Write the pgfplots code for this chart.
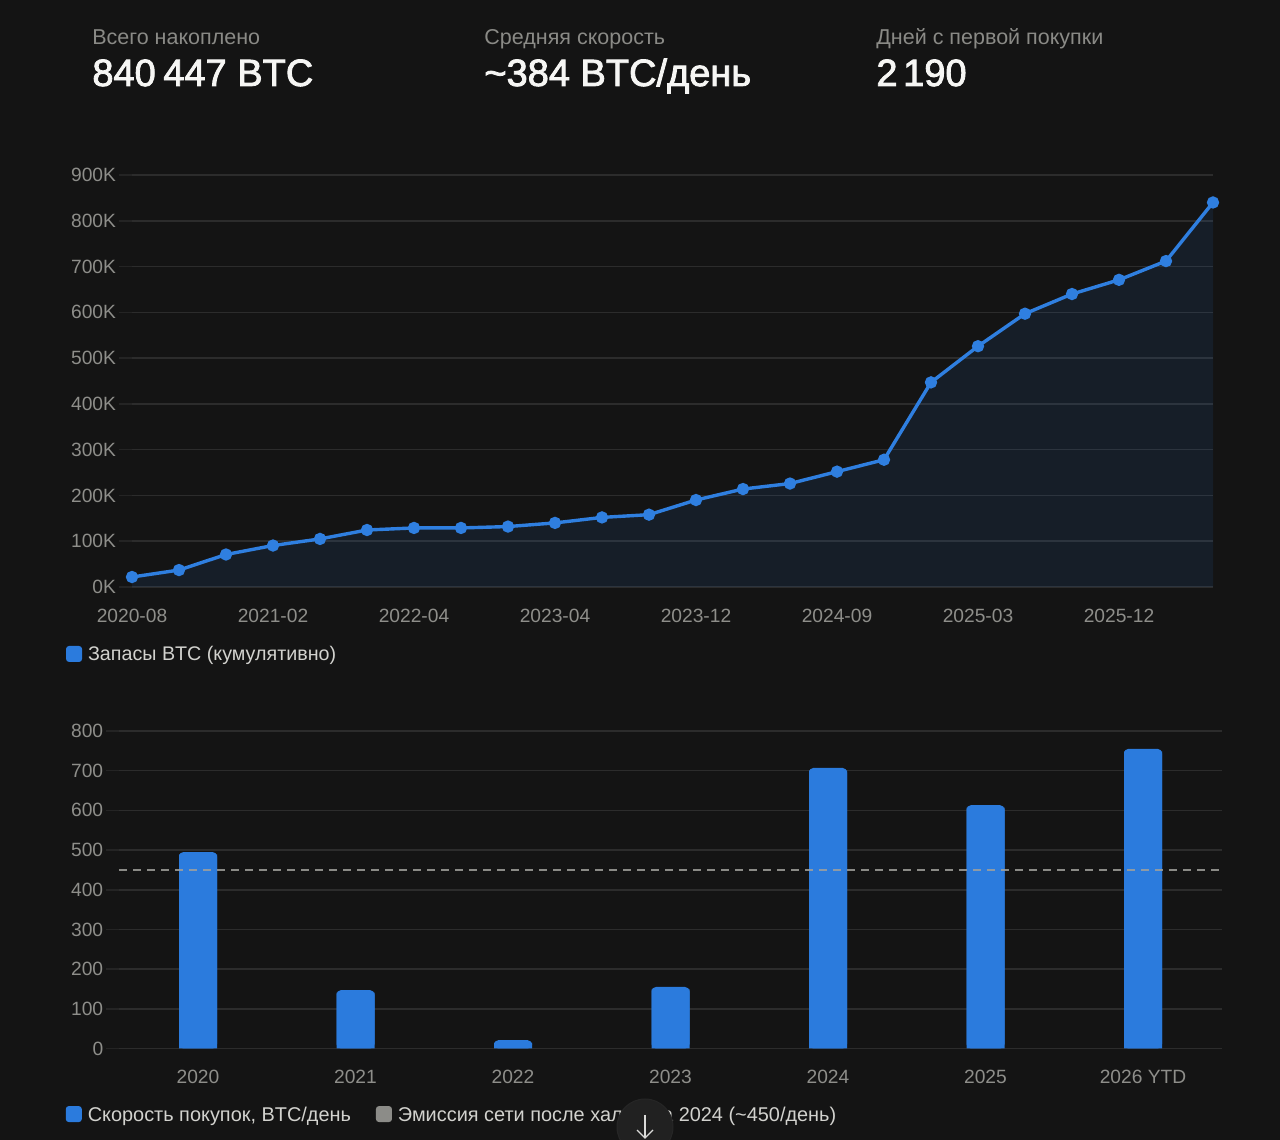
\documentclass[border=0pt]{standalone}
\usepackage{fontspec}
\setmainfont{Liberation Sans}
\newfontfamily\headfont[FakeBold=2.2]{Liberation Sans}
\usepackage{pgfplots}
\usepackage{pgfplotstable}
\pgfplotsset{compat=1.18}
% 1 px of the reference = 0.5pt here
\definecolor{bg}{HTML}{141414}
\definecolor{gridc}{HTML}{2C2C2C}
\definecolor{stubc}{HTML}{242424}
\definecolor{tickc}{HTML}{8E8E8A}
\definecolor{legc}{HTML}{D2D2CE}
\definecolor{headc}{HTML}{F6F6F4}
\definecolor{subc}{HTML}{8A8A86}
\definecolor{lineblue}{HTML}{2F7FE0}
\definecolor{barblue}{HTML}{2B7BDD}
\definecolor{emgray}{HTML}{8C8C88}
\definecolor{dashc}{HTML}{A0A09C}
\definecolor{btnc}{HTML}{212121}
\definecolor{btnb}{HTML}{262626}
\definecolor{arrowc}{HTML}{DADAD8}

\pgfplotstableread{
x v
0 21.8
1 37
2 71
3 90.6
4 105
5 124.5
6 129
7 129
8 132
9 140
10 152
11 158
12 190
13 214
14 226
15 252
16 278
17 447
18 526
19 597
20 640
21 671
22 712
23 840
}\holdings

\pgfplotstableread{
x v
0 495
1 147
2 21
3 155
4 707
5 613
6 755
}\speed

\pgfplotsset{
  darkaxis/.style={
    scale only axis,
    axis line style={draw=none},
    ymajorgrids,
    grid style={gridc,line width=0.75pt},
    tick align=outside,
    ytick pos=left,
    xtick pos=bottom,
    major tick length=6.5pt,
    ytick style={stubc,line width=0.75pt},
    xtick style={draw=none},
    tick label style={font=\fontsize{9.6}{11}\selectfont,text=tickc},
    /pgf/number format/assume math mode=true,
    clip=false,
    axis on top=false,
    legend cell align=left,
  },
  swatch/.style={legend image code/.code={%
    \path[fill=#1,draw=none,solid,opacity=1,rounded corners=1.5pt] (0pt,-0.5pt) rectangle (8pt,7.5pt);
    \path[draw=none,fill=none] (0pt,0pt) rectangle (11pt,0pt);}},
}

\begin{document}
\begin{tikzpicture}[x=1pt,y=1pt]
\useasboundingbox (0,0) rectangle (640,570);
\fill[bg] (0,0) rectangle (640,570);

\node[anchor=base west,inner sep=0,text=subc,font=\fontsize{10.75}{12}\selectfont] at (46,547.7) {Всего накоплено};
\node[anchor=base west,inner sep=0,text=subc,font=\fontsize{10.75}{12}\selectfont] at (242,547.7) {Средняя скорость};
\node[anchor=base west,inner sep=0,text=subc,font=\fontsize{10.75}{12}\selectfont] at (438,547.7) {Дней с первой покупки};
\node[anchor=base west,inner sep=0,text=headc,font=\fontsize{19}{22}\selectfont\headfont] at (46,527) {840\hspace{0.2em}447 BTC};
\node[anchor=base west,inner sep=0,text=headc,font=\fontsize{19}{22}\selectfont\headfont] at (242,527) {\textasciitilde 384 BTC/день};
\node[anchor=base west,inner sep=0,text=headc,font=\fontsize{19}{22}\selectfont\headfont] at (438,527) {2\hspace{0.15em}190};

\begin{axis}[
  darkaxis,
  at={(66pt,276.5pt)},anchor=south west,
  width=540.5pt,height=206pt,
  xmin=0,xmax=23,ymin=0,ymax=900,
  xtick={0,3,6,9,12,15,18,21},
  xticklabels={2020-08,2021-02,2022-04,2023-04,2023-12,2024-09,2025-03,2025-12},
  ytick={0,100,...,900},
  yticklabels={0K,100K,200K,300K,400K,500K,600K,700K,800K,900K},
  xticklabel style={anchor=base,yshift=-11.5pt},
  yticklabel style={anchor=east,xshift=2pt},
  swatch=barblue,
  legend style={at={(axis description cs:-0.061,-0.165)},anchor=west,draw=none,fill=none,inner sep=0pt,outer sep=0pt,
    font=\fontsize{9.85}{12}\selectfont,text=legc,nodes={inner sep=0pt,anchor=base west}},
]
\addplot[draw=none,fill=lineblue,fill opacity=0.1,forget plot] table[x=x,y=v] {\holdings} \closedcycle;
\addplot[lineblue,line width=1.7pt,mark=*,mark size=2.2pt,mark options={fill=lineblue,draw=none}] table[x=x,y=v] {\holdings};
\addlegendentry{Запасы BTC (кумулятивно)}
\end{axis}

\begin{axis}[
  darkaxis,
  at={(59.625pt,45.75pt)},anchor=south west,
  width=551.25pt,height=158.75pt,
  xmin=-0.5,xmax=6.5,ymin=0,ymax=800,
  xtick={0,...,6},
  xticklabels={2020,2021,2022,2023,2024,2025,2026 YTD},
  ytick={0,100,...,800},
  xticklabel style={anchor=base,yshift=-11pt},
  yticklabel style={anchor=east,xshift=2pt},
  legend columns=2,
  legend style={at={(axis description cs:-0.0485,-0.2097)},anchor=west,draw=none,fill=none,inner sep=0pt,outer sep=0pt,
    font=\fontsize{9.95}{12}\selectfont,text=legc,nodes={inner sep=0pt,anchor=base west},
    /tikz/every even column/.append style={column sep=12.5pt}},
]
\addplot[ybar,bar width=19pt,bar shift=0pt,fill=barblue,draw=none,rounded corners=2.2pt,swatch=barblue]
  table[x=x,y=v] {\speed};
\addlegendentry{Скорость покупок, BTC/день}
% square bottoms for the bars
\addplot[ybar,bar width=19pt,bar shift=0pt,fill=barblue,draw=none,forget plot]
  table[x=x,y expr=\thisrow{v}-6] {\speed};
\addplot[dashc,line width=1.4pt,dash pattern=on 4pt off 3pt,opacity=0.85,swatch=emgray]
  coordinates {(-0.5,450) (6.5,450)};
\addlegendentry{Эмиссия сети после халвинга 2024 (\textasciitilde 450/день)}
\end{axis}

% scroll button over the legend
\begin{scope}
\clip (0,0) rectangle (640,570);
\fill[btnc,draw=btnb,line width=0.5pt] (322.5,6.5) circle (14pt);
\draw[arrowc,line width=0.6pt] (322.5,12.5) -- (322.5,1);
\draw[arrowc,line width=0.6pt] (318.5,5) -- (322.5,1) -- (326.5,5);
\end{scope}
\end{tikzpicture}
\end{document}
